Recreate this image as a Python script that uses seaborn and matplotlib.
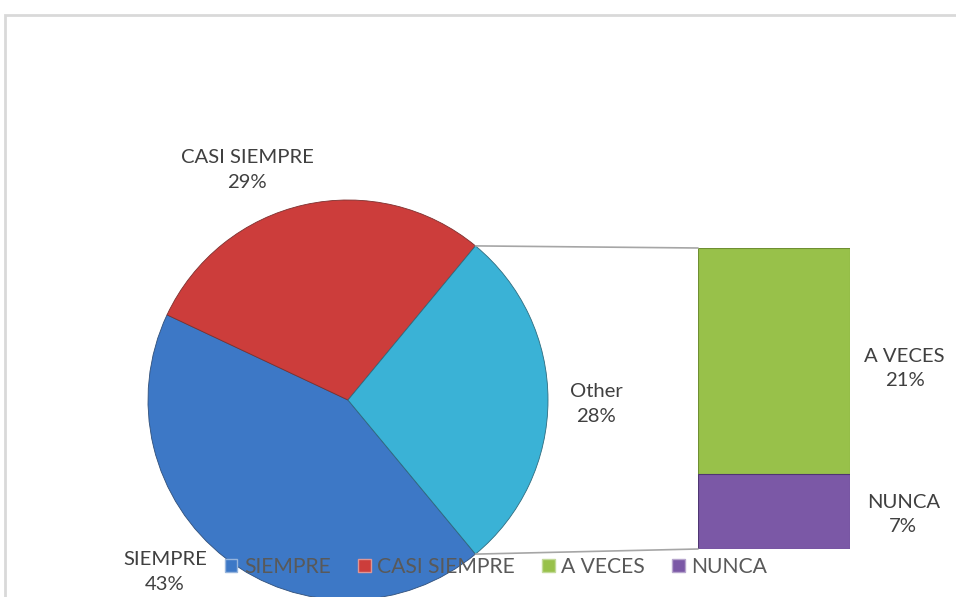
import numpy as np
import seaborn as sns
import matplotlib.pyplot as plt
from matplotlib.patches import ConnectionPatch, Rectangle

# data
pie_labels = ['SIEMPRE', 'CASI SIEMPRE', 'Other']
pie_values = [43, 29, 28]
bar_labels = ['A VECES', 'NUNCA']
bar_values = [21, 7]
legend_labels = ['SIEMPRE', 'CASI SIEMPRE', 'A VECES', 'NUNCA']
colors = {'SIEMPRE': '#3d78c6', 'CASI SIEMPRE': '#cc3d3b', 'Other': '#3ab2d6',
          'A VECES': '#98c14a', 'NUNCA': '#7b58a6'}

sns.set_theme(style='white')
plt.rcParams['font.family'] = ['Lato', 'DejaVu Sans']
TXT = '#404040'
FS = 14.6

W, H = 956, 597
fig = plt.figure(figsize=(W / 100, H / 100), dpi=100)

def px_axes(x, y, w, h):
    # pixel box (top-left origin) -> figure axes
    return fig.add_axes([x / W, 1 - (y + h) / H, w / W, h / H])

# chart border
fig.patches.append(Rectangle((5 / W, -0.1), 1.1, 1 - 15 / H + 0.1, transform=fig.transFigure,
                             fill=False, edgecolor='#d9d9d9', linewidth=2, zorder=0))

# pie
ax_pie = px_axes(148, 200, 400, 400)
start = -pie_values[2] / sum(pie_values) * 360 / 2
wedges, _ = ax_pie.pie(pie_values, colors=[colors[l] for l in pie_labels],
                       startangle=start, counterclock=False,
                       wedgeprops=dict(linewidth=0.6))
for w, l in zip(wedges, pie_labels):
    w.set_edgecolor(sns.dark_palette(colors[l], 3)[1])
ax_pie.set_xlim(-1, 1)
ax_pie.set_ylim(-1, 1)
ax_pie.set_aspect('equal')
ax_pie.axis('off')

pie_txt_pos = {'SIEMPRE': (-0.915, -0.86), 'CASI SIEMPRE': (-0.505, 1.15), 'Other': (1.24, -0.02)}
for l, v in zip(pie_labels, pie_values):
    x, y = pie_txt_pos[l]
    ax_pie.text(x, y, f'{l}\n{v}%', ha='center', va='center', fontsize=FS, color=TXT,
                linespacing=1.55, clip_on=False, zorder=5)

# bar of the "Other" slice
ax_bar = px_axes(698, 248, 152, 301)
total = sum(bar_values)
sns.barplot(x=[0], y=[total], color=colors['A VECES'], width=1, ax=ax_bar,
            edgecolor='#6f8f32', linewidth=0.8, saturation=1)
sns.barplot(x=[0], y=[bar_values[1]], color=colors['NUNCA'], width=1, ax=ax_bar,
            edgecolor='#4f3672', linewidth=0.8, saturation=1)
ax_bar.set_xlim(-0.5, 0.5)
ax_bar.set_ylim(0, total)
ax_bar.axis('off')

bar_txt_pos = {'A VECES': (1.36, 0.6), 'NUNCA': (1.35, 0.115)}
for l, v in zip(bar_labels, bar_values):
    x, y = bar_txt_pos[l]
    ax_bar.text(x, y, f'{l}\n{v}%', transform=ax_bar.transAxes, ha='center', va='center',
                fontsize=FS, color=TXT, linespacing=1.55, clip_on=False)

# connector lines
t_top = np.deg2rad(start + pie_values[2] / sum(pie_values) * 360)
t_bot = np.deg2rad(start)
for t, yb in [(t_top, total), (t_bot, 0)]:
    con = ConnectionPatch(xyA=(np.cos(t), np.sin(t)), coordsA=ax_pie.transData,
                          xyB=(-0.5, yb), coordsB=ax_bar.transData,
                          color='#a6a6a6', linewidth=1.2)
    fig.add_artist(con)

# legend
handles = [Rectangle((0, 0), 1, 1, facecolor=colors[l], linewidth=1,
                     edgecolor=sns.light_palette(colors[l], 3)[1]) for l in legend_labels]
leg = fig.legend(handles, legend_labels, loc='center', bbox_to_anchor=(496 / W, 1 - 567 / H),
                 ncol=4, frameon=False, fontsize=FS + 0.6, handlelength=0.6, handleheight=0.6,
                 handletextpad=0.3, columnspacing=1.3)
for t in leg.get_texts():
    t.set_color('#595959')
leg.set_zorder(10)

fig.savefig('out.png', dpi=100)
